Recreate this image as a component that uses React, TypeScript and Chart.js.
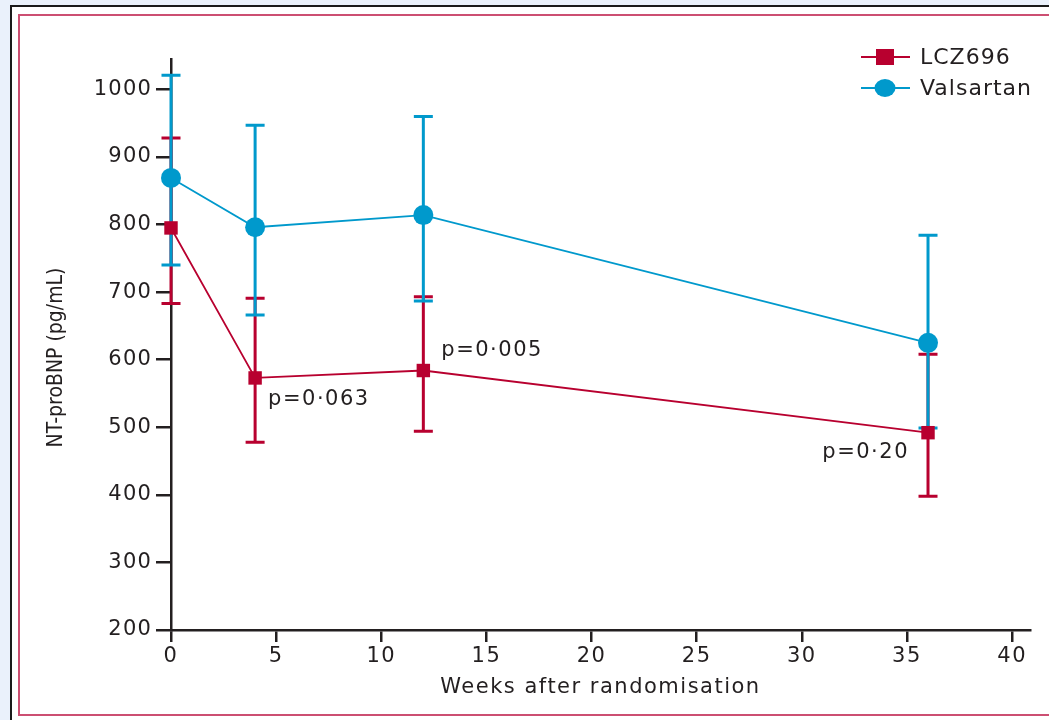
import React, { useEffect, useRef } from "react";
import { Chart, registerables } from "chart.js";

Chart.register(...registerables);

const weeks = [0, 4, 12, 36];
const lczMean = [795, 573, 584, 492];
const lczLow = [683, 478, 494, 398];
const lczHigh = [928, 691, 693, 608];
const valMean = [869, 796, 814, 625];
const valLow = [740, 666, 687, 499];
const valHigh = [1021, 947, 960, 784];
const yTicks = [200, 300, 400, 500, 600, 700, 800, 900, 1000];
const xTicks = [0, 5, 10, 15, 20, 25, 30, 35, 40];
const pLabels = ["p=0·063", "p=0·005", "p=0·20"];
const pWeeks = [4, 12, 36];

const RED = "#b8002f";
const BLUE = "#0099cc";
const INK = "#231f20";
const FONT = "'DejaVu Sans', sans-serif";

// placement of the p-value labels relative to their LCZ696 point (pixels)
const pPlacement = [
  { dx: 13, dy: 22, align: "left" },
  { dx: 18, dy: -20, align: "left" },
  { dx: -19, dy: 20, align: "right" },
];

function withSpacing(obj: any, method: string, spacing: string) {
  const key = "__spaced_" + method;
  if (obj[key]) return;
  obj[key] = true;
  const orig = obj[method].bind(obj);
  obj[method] = (...args: any[]) => {
    const ctx = obj.ctx;
    const prev = ctx.letterSpacing;
    ctx.letterSpacing = spacing;
    orig(...args);
    ctx.letterSpacing = prev || "0px";
  };
}

// shifts the y-axis title along the axis (pixels, positive = downwards)
const Y_TITLE_SHIFT = 13;

const spacingPlugin = {
  id: "letterSpacing",
  afterUpdate(chart: any) {
    withSpacing(chart.scales.x, "drawLabels", "1.5px");
    withSpacing(chart.scales.x, "drawTitle", "1.5px");
    withSpacing(chart.scales.y, "drawLabels", "1.2px");
    const y = chart.scales.y;
    if (!y.__shifted) {
      y.__shifted = true;
      const orig = y.drawTitle.bind(y);
      y.drawTitle = (...args: any[]) => {
        y.ctx.save();
        y.ctx.translate(0, Y_TITLE_SHIFT);
        orig(...args);
        y.ctx.restore();
      };
    }
  },
};

const errorBarPlugin = {
  id: "errorBars",
  beforeDatasetsDraw(chart: any) {
    const { ctx, scales } = chart;
    const sets = [
      { low: lczLow, high: lczHigh, color: RED },
      { low: valLow, high: valHigh, color: BLUE },
    ];
    ctx.save();
    for (const s of sets) {
      ctx.strokeStyle = s.color;
      ctx.lineWidth = 3;
      weeks.forEach((w, i) => {
        const x = scales.x.getPixelForValue(w);
        const y1 = scales.y.getPixelForValue(s.low[i]);
        const y2 = scales.y.getPixelForValue(s.high[i]);
        ctx.beginPath();
        ctx.moveTo(x, y1);
        ctx.lineTo(x, y2);
        ctx.moveTo(x - 9.5, y1);
        ctx.lineTo(x + 9.5, y1);
        ctx.moveTo(x - 9.5, y2);
        ctx.lineTo(x + 9.5, y2);
        ctx.stroke();
      });
    }
    ctx.restore();
  },
};

const annotationPlugin = {
  id: "pLabels",
  afterDatasetsDraw(chart: any) {
    const { ctx, scales } = chart;
    ctx.save();
    ctx.letterSpacing = "1.5px";
    ctx.fillStyle = INK;
    ctx.font = `21px ${FONT}`;
    ctx.textBaseline = "middle";
    pLabels.forEach((label, i) => {
      const idx = weeks.indexOf(pWeeks[i]);
      const x = scales.x.getPixelForValue(pWeeks[i]) + pPlacement[i].dx;
      const y = scales.y.getPixelForValue(lczMean[idx]) + pPlacement[i].dy;
      ctx.textAlign = pPlacement[i].align;
      ctx.fillText(label, x, y);
    });
    ctx.letterSpacing = "0px";
    ctx.restore();
  },
};

const legendPlugin = {
  id: "customLegend",
  afterDraw(chart: any) {
    const { ctx, chartArea } = chart;
    ctx.save();
    const x0 = chartArea.right - 169;
    const rows = [57, 88];
    chart.data.datasets.forEach((ds: any, i: number) => {
      const y = rows[i];
      ctx.strokeStyle = ds.borderColor;
      ctx.lineWidth = 2;
      ctx.beginPath();
      ctx.moveTo(x0, y);
      ctx.lineTo(x0 + 49, y);
      ctx.stroke();
      ctx.fillStyle = ds.backgroundColor;
      if (ds.pointStyle === "rect") {
        ctx.fillRect(x0 + 15, y - 8, 18, 16);
      } else {
        ctx.beginPath();
        ctx.ellipse(x0 + 24, y, 10.5, 9, 0, 0, Math.PI * 2);
        ctx.fill();
      }
      ctx.letterSpacing = "1px";
      ctx.fillStyle = INK;
      ctx.font = `22px ${FONT}`;
      ctx.textAlign = "left";
      ctx.textBaseline = "middle";
      ctx.fillText(ds.label, x0 + 59, y + 1);
      ctx.letterSpacing = "0px";
    });
    ctx.restore();
  },
};

export default function App() {
  const ref = useRef<HTMLCanvasElement>(null);
  useEffect(() => {
    if (!ref.current) return;
    const chart = new Chart(ref.current, {
      type: "scatter",
      data: {
        datasets: [
          {
            label: "LCZ696",
            data: weeks.map((w, i) => ({ x: w, y: lczMean[i] })),
            borderColor: RED,
            backgroundColor: RED,
            showLine: true,
            borderWidth: 1.8,
            pointStyle: "rect",
            pointRadius: 9.5,
            pointHoverRadius: 9.5,
            pointBorderWidth: 0,
            clip: false,
          },
          {
            label: "Valsartan",
            data: weeks.map((w, i) => ({ x: w, y: valMean[i] })),
            borderColor: BLUE,
            backgroundColor: BLUE,
            showLine: true,
            borderWidth: 1.8,
            pointStyle: "circle",
            pointRadius: 10,
            pointHoverRadius: 10,
            pointBorderWidth: 0,
            clip: false,
          },
        ],
      },
      options: {
        animation: false,
        responsive: false,
        events: [],
        layout: { padding: { left: 36, right: 19, top: 59, bottom: 12 } },
        plugins: {
          legend: { display: false },
          tooltip: { enabled: false },
        },
        scales: {
          x: {
            type: "linear",
            min: 0,
            max: 40.85,
            afterBuildTicks: (axis: any) => {
              axis.ticks = xTicks.map((v) => ({ value: v }));
            },
            afterFit: (axis: any) => {
              axis.height = 78;
            },
            grid: {
              drawOnChartArea: false,
              drawTicks: true,
              tickLength: 12,
              color: INK,
              lineWidth: 2.5,
            },
            border: { display: true, color: INK, width: 2.5 },
            ticks: {
              color: INK,
              font: { family: FONT, size: 21 },
              padding: 2,
              maxRotation: 0,
              callback: (v: any) => String(v),
            },
            title: {
              display: true,
              text: "Weeks after randomisation",
              color: INK,
              font: { family: FONT, size: 21 },
              padding: { top: 0, bottom: 8 },
            },
          },
          y: {
            type: "linear",
            min: 200,
            max: 1045,
            afterBuildTicks: (axis: any) => {
              axis.ticks = yTicks.map((v) => ({ value: v }));
            },
            afterFit: (axis: any) => {
              axis.width = 171 - 36;
            },
            grid: {
              drawOnChartArea: false,
              drawTicks: true,
              tickLength: 15,
              color: INK,
              lineWidth: 2.5,
            },
            border: { display: true, color: INK, width: 2.5 },
            ticks: {
              color: INK,
              font: { family: FONT, size: 21 },
              padding: 4,
              callback: (v: any) => String(v),
            },
            title: {
              display: true,
              text: "NT-proBNP (pg/mL)",
              color: INK,
              font: { family: "'Liberation Sans Narrow', 'DejaVu Sans Condensed', sans-serif", size: 21 },
              padding: { top: 8, bottom: 0 },
            },
          },
        },
      },
      plugins: [spacingPlugin, errorBarPlugin, annotationPlugin, legendPlugin],
    } as any);
    return () => chart.destroy();
  }, []);

  return (
    <div
      style={{
        position: "fixed",
        left: 0,
        top: 0,
        width: 1049,
        height: 720,
        background: "#eaf1fb",
        overflow: "hidden",
      }}
    >
      <div
        style={{
          position: "absolute",
          left: 10,
          top: 5,
          width: 1100,
          height: 800,
          borderLeft: "2px solid #1a1a1a",
          borderTop: "2px solid #1a1a1a",
          background: "#ffffff",
        }}
      />
      <div
        style={{
          position: "absolute",
          left: 18,
          top: 14,
          width: 1100,
          height: 702,
          border: "2px solid #cc4f72",
          boxSizing: "border-box",
          background: "#ffffff",
        }}
      />
      <canvas
        ref={ref}
        width={1049}
        height={720}
        style={{ position: "absolute", left: 0, top: 0, width: 1049, height: 720 }}
      />
    </div>
  );
}
